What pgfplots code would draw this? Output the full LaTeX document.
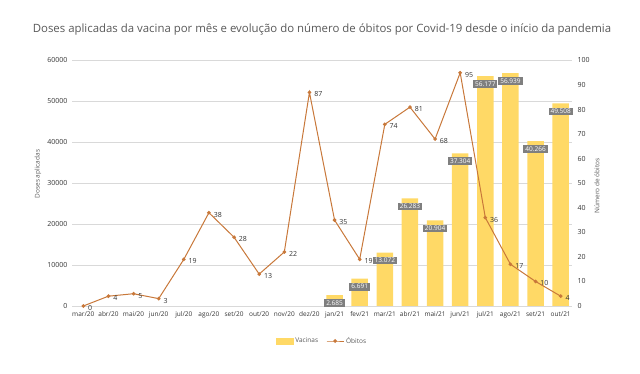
\documentclass[border=0pt]{standalone}
\usepackage{fontspec}
\setmainfont{Open Sans}
\usepackage{pgfplots}
\pgfplotsset{compat=1.18}
\usepackage{pgfplotstable}
\definecolor{barcol}{HTML}{FFD966}
\definecolor{linecol}{HTML}{C8783A}
\definecolor{gridcol}{HTML}{D9D9D9}
\definecolor{txtcol}{HTML}{595959}
\definecolor{boxcol}{HTML}{7F7F7F}

\pgfplotstableread{
x v lab
10 2685 2.685
11 6691 6.691
12 13072 13.072
13 26283 26.283
14 20904 20.904
15 37304 37.304
16 56177 56.177
17 56939 56.939
18 40266 40.266
19 49508 49.508
}\vac

\pgfplotstableread{
x d
0 0
1 4
2 5
3 3
4 19
5 38
6 28
7 13
8 22
9 87
10 35
11 19
12 74
13 81
14 68
15 95
16 36
17 17
18 10
19 4
}\obitos

\begin{document}
\begin{tikzpicture}
\path[use as bounding box] (0,0) rectangle (640pt,374pt);
\node[text=txtcol, font=\fontsize{11.4}{13}\selectfont] at (322pt,344pt) {Doses aplicadas da vacina por mês e evolução do número de óbitos por Covid-19 desde o início da pandemia};
\node[text=txtcol, rotate=90, font=\fontsize{6.5}{8}\selectfont] at (38pt,200pt) {Doses aplicadas};
\node[text=txtcol, rotate=90, font=\fontsize{6.5}{8}\selectfont] at (597pt,188pt) {Número de óbitos};
\begin{axis}[
  at={(72pt,68pt)}, anchor=south west, scale only axis,
  width=500pt, height=245.5pt,
  xmin=-0.45, xmax=19.45, ymin=0, ymax=60000,
  axis line style={draw=none},
  major tick length=0pt,
  ytick={0,10000,...,60000},
  scaled y ticks=false,
  /pgf/number format/assume math mode=true,
  yticklabel style={/pgf/number format/.cd, fixed, 1000 sep={}, /tikz/.cd, font=\fontsize{7}{8}\selectfont, text=black!80, xshift=-1pt},
  ymajorgrids, grid style={gridcol, line width=0.8pt},
  xtick={0,...,19},
  xticklabels={mar/20,abr/20,mai/20,jun/20,jul/20,ago/20,set/20,out/20,nov/20,dez/20,jan/21,fev/21,mar/21,abr/21,mai/21,jun/21,jul/21,ago/21,set/21,out/21},
  xticklabel style={font=\fontsize{6.5}{8}\selectfont, text=black!80, yshift=-2pt},
]
\addplot[ybar, bar width=16.5pt, fill=barcol, draw=none,
  point meta=explicit symbolic,
  nodes near coords,
  nodes near coords style={anchor=center, yshift=-8pt, fill=boxcol, text=white, font=\fontsize{6.5}{7.5}\selectfont, inner xsep=2pt, inner ysep=1.5pt}]
  table[x=x, y=v, meta=lab] {\vac};
\end{axis}
\begin{axis}[
  at={(72pt,68pt)}, anchor=south west, scale only axis,
  width=500pt, height=245.5pt,
  xmin=-0.45, xmax=19.45, ymin=0, ymax=100,
  axis y line*=right, axis x line=none,
  y axis line style={draw=none},
  major tick length=0pt,
  ytick={0,10,...,100},
  /pgf/number format/assume math mode=true,
  yticklabel style={font=\fontsize{7}{8}\selectfont, text=black!80, xshift=2pt},
  legend style={at={(0.5,-0.1426)}, anchor=center, draw=none, legend columns=2,
    font=\fontsize{6.5}{8}\selectfont, text=txtcol, /tikz/every even column/.append style={column sep=6pt}},
]
\addlegendimage{area legend, fill=barcol, draw=barcol}
\addlegendentry{Vacinas}
\addplot[linecol, line width=1pt, mark=*, mark size=1.3pt,
  nodes near coords,
  nodes near coords style={anchor=west, font=\fontsize{7}{8}\selectfont, text=black!80, xshift=1pt, yshift=-2pt}]
  table[x=x, y=d] {\obitos};
\addlegendentry{Óbitos}
\end{axis}
\end{tikzpicture}
\end{document}
